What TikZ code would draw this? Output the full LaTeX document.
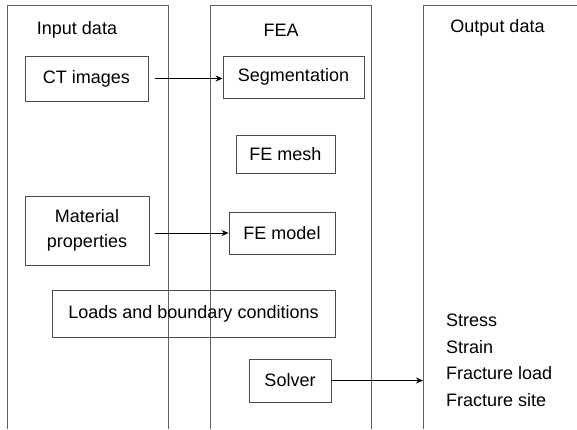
\documentclass[tikz,border=0pt]{standalone}
\usepackage{fontspec}
\setmainfont{Liberation Sans}
\usetikzlibrary{arrows.meta}
\begin{document}
\begin{tikzpicture}[x=1pt,y=1pt,
  every node/.style={font=\fontsize{18}{21.6}\selectfont, inner sep=0pt},
  col/.style={draw=black!62, line width=0.9pt},
  stepbox/.style={draw=black!70, line width=0.9pt, rectangle, align=center},
  conn/.style={draw=black, line width=0.9pt, -{Stealth[length=7pt,width=6pt]}},
  outtext/.style={anchor=west}
]
\useasboundingbox (0,0) rectangle (577,-429);
% columns
\draw[col] (7,-429) -- (7,-5) -- (168,-5) -- (168,-429);
\draw[col] (210,-429) -- (210,-5) -- (371,-5) -- (371,-429);
\draw[col] (423,-429) -- (423,-5) -- (578,-5);
% headers
\node (hin) at (77,-30) {Input data};
\node (hfea) at (281,-30) {FEA};
\node (hout) at (497.5,-28) {Output data};
% boxes
\node[stepbox, minimum width=123, minimum height=45] (ct) at (86.5,-78.5) {CT images};
\node[stepbox, minimum width=141, minimum height=42] (seg) at (293.5,-77) {Segmentation};
\node[stepbox, minimum width=99, minimum height=38] (mesh) at (285.5,-154) {FE mesh};
\node[stepbox, minimum width=124, minimum height=69] (mat) at (87,-230.5) {Material\\[4pt]properties};
\node[stepbox, minimum width=106, minimum height=42] (model) at (282,-233) {FE model};
\node[stepbox, minimum width=283, minimum height=47] (loads) at (193.5,-313.5) {Loads and boundary conditions};
\node[stepbox, minimum width=82, minimum height=43] (solver) at (290,-380.5) {Solver};
% outputs
\node[outtext] (o1) at (446,-320) {Stress};
\node[outtext] (o2) at (446,-347) {Strain};
\node[outtext] (o3) at (446,-373) {Fracture load};
\node[outtext] (o4) at (446,-400) {Fracture site};
\coordinate (outl) at (423,-382);
% connectors
\draw[conn, shorten <=7pt] (ct.east) -- (ct.east -| seg.west);
\draw[conn, shorten <=6pt] (model.west -| mat.east) -- (model.west);
\draw[conn] (solver.east) -- (solver.east -| outl);
\end{tikzpicture}
\end{document}
